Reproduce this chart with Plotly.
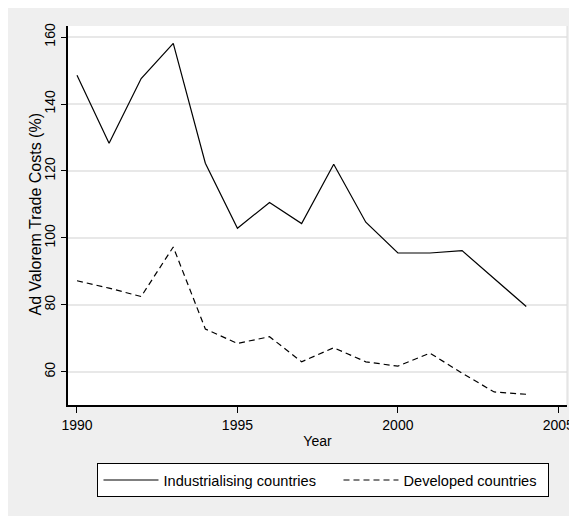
import plotly.graph_objects as go

years = list(range(1990, 2005))
industrialising = [148.6, 128.3, 147.6, 158.1, 122.3, 102.9, 110.6, 104.3, 122.0, 104.7, 95.5, 95.5, 96.2, 87.8, 79.5]
developed = [87.2, 85.0, 82.5, 97.3, 72.8, 68.5, 70.5, 63.0, 67.2, 63.0, 61.7, 65.6, 59.6, 54.0, 53.3]
x_ticks = [1990, 1995, 2000, 2005]
y_ticks = [60, 80, 100, 120, 140, 160]

# the page body adds an 8px offset; figure coordinates below are relative to it
W, H = 569, 508
L, R, T, B = 60, 3, 18, 111
pw, ph = W - L - R, H - T - B


def px(x):
    return (x - L) / pw


def py(y):
    return (H - B - y) / ph


FONT = "Liberation Sans, Arial, sans-serif"

fig = go.Figure()
fig.add_trace(go.Scatter(x=years, y=industrialising, mode="lines",
                         name="Industrialising countries", legendwidth=170,
                         line=dict(color="black", width=1.2)))
fig.add_trace(go.Scatter(x=years, y=developed, mode="lines",
                         name="Developed countries", legendwidth=140,
                         line=dict(color="black", width=1.2, dash="6px,4px")))

shapes = [
    dict(type="line", xref="paper", yref="paper", x0=1, x1=1, y0=0, y1=1,
         line=dict(color="#dcdcdc", width=1)),
]

fig.update_layout(
    width=W, height=H,
    margin=dict(l=L, r=R, t=T, b=B, pad=0),
    paper_bgcolor="#efefef",
    plot_bgcolor="white",
    font=dict(family=FONT, size=14, color="black"),
    showlegend=True,
    legend=dict(orientation="h", x=0.512, xanchor="center", y=py(455), yanchor="top",
                bgcolor="white", bordercolor="black", borderwidth=1,
                font=dict(family=FONT, size=14.6, color="black"),
                itemwidth=55, entrywidthmode="pixels"),
    shapes=shapes,
    annotations=[dict(text="Ad Valorem Trade Costs (%)", textangle=-90,
                      xref="paper", yref="paper", x=px(27), y=py(206),
                      xanchor="center", yanchor="middle", showarrow=False,
                      font=dict(family=FONT, size=16, color="black"))],
    xaxis=dict(range=[1989.72, 2005.27], tickvals=x_ticks, ticks="outside", ticklen=6,
               tickcolor="black", showline=True, linecolor="black", linewidth=1.5,
               showgrid=False, zeroline=False, ticklabeloverflow="allow",
               title=dict(text="Year", standoff=5, font=dict(size=14))),
    yaxis=dict(range=[50.1, 163.3], tickvals=y_ticks, ticks="outside", ticklen=5,
               tickcolor="black", showline=True, linecolor="black", linewidth=1.5,
               showgrid=True, gridcolor="#e8e8e8", gridwidth=1.5, zeroline=False,
               tickangle=-90, ticklabelstandoff=1),
)

fig.write_html("out.html")
